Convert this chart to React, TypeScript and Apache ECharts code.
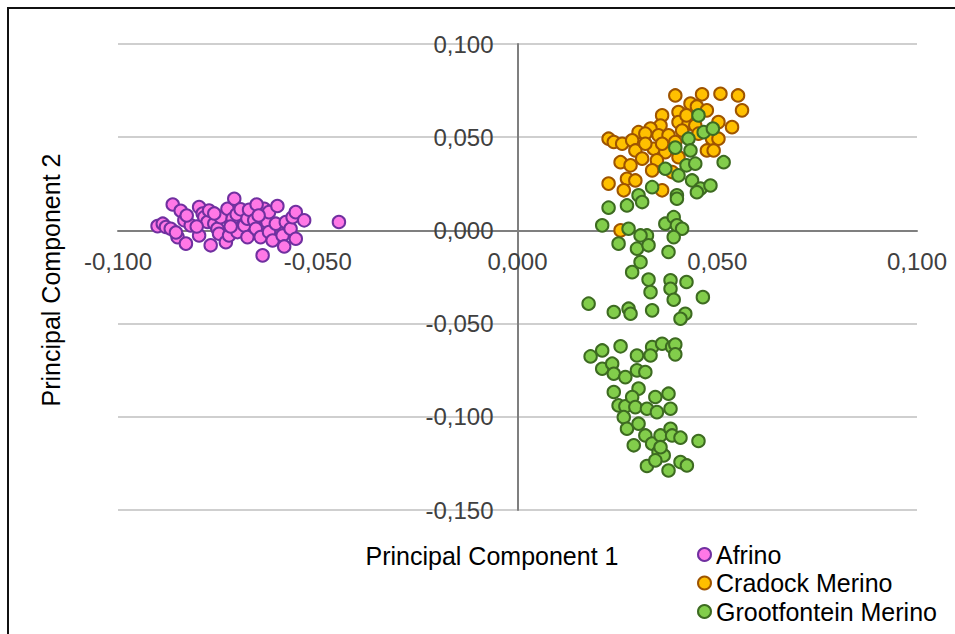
import React, { useEffect, useRef } from "react";
import * as echarts from "echarts";

const seriesNames = ["Afrino", "Cradock Merino", "Grootfontein Merino"];

const afrino: [number, number][] = [
  [-0.0901, 0.0023], [-0.0888, 0.0036], [-0.088, 0.0018], [-0.0863, 0.0139], [-0.0868, 0.0009],
  [-0.0851, -0.0036], [-0.0843, 0.0105], [-0.0834, 0.0054], [-0.083, -0.0071], [-0.0818, 0.0027],
  [-0.0797, 0.0125], [-0.0788, 0.009], [-0.0797, -0.0027], [-0.0784, 0.0071], [-0.0776, 0.0045],
  [-0.0772, 0.0107], [-0.0768, -0.008], [-0.0759, 0.0036], [-0.0751, 0.0009], [-0.0743, 0.0071],
  [-0.0747, -0.0018], [-0.073, -0.0063], [-0.0726, 0.0116], [-0.0722, -0.0027], [-0.0713, 0.0063],
  [-0.0709, 0.017], [-0.0703, 0.0086], [-0.0701, -0.0009], [-0.0693, 0.0113], [-0.0684, 0.0027],
  [-0.0676, 0.0063], [-0.0676, -0.0036], [-0.0672, 0.0111], [-0.0659, 0.0054], [-0.0655, 0.0009],
  [-0.0643, -0.0036], [-0.0638, -0.0134], [-0.0634, 0.0116], [-0.0626, 0.0045], [-0.0622, 0.0098],
  [-0.0622, -0.0009], [-0.0613, -0.0054], [-0.0605, 0.0036], [-0.0601, 0.0131], [-0.0588, -0.0027],
  [-0.0584, -0.0086], [-0.058, 0.0045], [-0.0568, 0.0009], [-0.0563, 0.0071], [-0.0555, 0.0098],
  [-0.0555, -0.0045], [-0.0534, 0.0054], [-0.0447, 0.0045], [-0.0759, 0.0091], [-0.0653, 0.0139],
  [-0.0718, 0.0021], [-0.0828, 0.008], [-0.0855, -0.0011], [-0.0803, 0.0021], [-0.0648, 0.008],
];

const cradock: [number, number][] = [
  [0.0395, 0.0724], [0.0462, 0.073], [0.0508, 0.0733], [0.0552, 0.0724], [0.0562, 0.0644],
  [0.0433, 0.068], [0.0449, 0.0665], [0.0474, 0.0644], [0.0403, 0.0635], [0.0362, 0.0617],
  [0.0403, 0.0581], [0.0428, 0.0572], [0.0445, 0.0563], [0.0503, 0.0581], [0.0537, 0.0554],
  [0.0358, 0.0563], [0.0333, 0.0546], [0.0303, 0.0527], [0.0228, 0.0492], [0.0241, 0.0474],
  [0.0262, 0.0465], [0.0287, 0.0483], [0.032, 0.0519], [0.0353, 0.051], [0.0378, 0.051],
  [0.0412, 0.0536], [0.0453, 0.0519], [0.0487, 0.0492], [0.0503, 0.0492], [0.0295, 0.0429],
  [0.0341, 0.0438], [0.037, 0.042], [0.0474, 0.0429], [0.0491, 0.0429], [0.0258, 0.0366],
  [0.0283, 0.0349], [0.0312, 0.0385], [0.0349, 0.0376], [0.0337, 0.0322], [0.0274, 0.0277],
  [0.0295, 0.0268], [0.0228, 0.0251], [0.0266, 0.0215], [0.0362, 0.0215], [0.0387, 0.0313],
  [0.0403, 0.0393], [0.0362, 0.0465], [0.032, 0.0465], [0.0395, 0.0474], [0.0258, 0.0],
  [0.0423, 0.0617],
];

const grootfontein: [number, number][] = [
  [0.0453, 0.0617], [0.0466, 0.0527], [0.0489, 0.0546], [0.0428, 0.0492], [0.0395, 0.0444],
  [0.0433, 0.0429], [0.0516, 0.0366], [0.037, 0.0331], [0.0403, 0.0295], [0.0423, 0.0349],
  [0.0445, 0.0358], [0.0437, 0.0268], [0.0458, 0.0224], [0.0483, 0.0241], [0.0449, 0.0205],
  [0.0337, 0.0232], [0.0303, 0.0188], [0.0312, 0.0152], [0.0274, 0.0134], [0.0228, 0.0122],
  [0.0399, 0.0188], [0.0399, 0.017], [0.0212, 0.0027], [0.0278, 0.0009], [0.037, 0.0036],
  [0.0391, 0.0071], [0.0399, 0.0027], [0.0412, 0.0009], [0.0324, -0.0027], [0.0308, -0.0027],
  [0.0391, -0.0036], [0.0253, -0.0071], [0.0299, -0.0098], [0.0328, -0.008], [0.0378, -0.0116],
  [0.0308, -0.017], [0.0287, -0.0224], [0.0328, -0.0264], [0.0333, -0.0331], [0.0383, -0.0268],
  [0.0383, -0.0313], [0.0423, -0.0277], [0.0391, -0.0372], [0.0464, -0.0358], [0.0178, -0.0393],
  [0.0241, -0.0438], [0.0278, -0.042], [0.0283, -0.0447], [0.0337, -0.0429], [0.042, -0.0447],
  [0.0408, -0.0474], [0.0183, -0.0676], [0.0212, -0.0644], [0.0258, -0.0622], [0.0212, -0.0742],
  [0.0237, -0.0715], [0.0241, -0.0769], [0.027, -0.0787], [0.0299, -0.0671], [0.0299, -0.0751],
  [0.032, -0.076], [0.0337, -0.0626], [0.0333, -0.0671], [0.0362, -0.0608], [0.0387, -0.0626],
  [0.0395, -0.0612], [0.0395, -0.0665], [0.0241, -0.0867], [0.0253, -0.0939], [0.027, -0.0944],
  [0.0266, -0.1002], [0.0303, -0.0849], [0.0287, -0.0894], [0.0295, -0.0948], [0.0324, -0.0957],
  [0.0345, -0.0894], [0.0349, -0.0975], [0.0378, -0.0876], [0.0383, -0.0957], [0.0274, -0.1064],
  [0.0303, -0.1037], [0.032, -0.11], [0.0291, -0.1153], [0.0337, -0.1144], [0.0358, -0.11],
  [0.0383, -0.1064], [0.0387, -0.11], [0.0408, -0.1112], [0.0453, -0.113], [0.0353, -0.1189],
  [0.0366, -0.1207], [0.0324, -0.1264], [0.0345, -0.1234], [0.0378, -0.1288], [0.0408, -0.1243],
  [0.0424, -0.1261], [0.0358, -0.1163],
];

const xAxisTitle = "Principal Component 1";
const yAxisTitle = "Principal Component 2";

const fillColors = ["#FF78E6", "#FFC000", "#82CD4B"];
const borderColors = ["#7030A0", "#9E5400", "#3D6B21"];

const FONT = "'Liberation Sans', Arial, sans-serif";

const GRID_LEFT = 118;
const GRID_RIGHT = 38;
const GRID_TOP = 44;
const GRID_BOTTOM = 124;
const CHART_W = 955;
const CHART_H = 634;

const fmt = (v: number) => {
  const n = Math.abs(v) < 1e-9 ? 0 : v;
  return n.toFixed(3).replace(".", ",");
};

export default function App() {
  const ref = useRef<HTMLDivElement>(null);
  useEffect(() => {
    if (!ref.current) return;
    const chart = echarts.init(ref.current, undefined, { renderer: "svg" });
    const datasets = [afrino, cradock, grootfontein];
    const xMin = -0.1, xMax = 0.1, yMin = -0.15, yMax = 0.1;
    const plotW = CHART_W - GRID_LEFT - GRID_RIGHT;
    const plotH = CHART_H - GRID_TOP - GRID_BOTTOM;
    // shift axes (line + labels) so they cross at zero, like the reference
    const xAxisOffset = -(plotH * (0 - yMin)) / (yMax - yMin);
    const yAxisOffset = -(plotW * (0 - xMin)) / (xMax - xMin);
    chart.setOption({
      animation: false,
      backgroundColor: "#ffffff",
      grid: { left: GRID_LEFT, right: GRID_RIGHT, top: GRID_TOP, bottom: GRID_BOTTOM },
      xAxis: {
        type: "value",
        min: xMin,
        max: xMax,
        interval: 0.05,
        offset: xAxisOffset,
        axisLine: { show: true, onZero: false, lineStyle: { color: "#7F7F7F", width: 2 } },
        axisTick: { show: false },
        splitLine: { show: false },
        axisLabel: {
          formatter: fmt,
          margin: 19,
          color: "#404040",
          fontSize: 24,
          fontFamily: FONT,
        },
      },
      yAxis: {
        type: "value",
        min: yMin,
        max: yMax,
        interval: 0.05,
        offset: yAxisOffset,
        axisLine: { show: true, onZero: false, lineStyle: { color: "#7F7F7F", width: 2 } },
        axisTick: { show: false },
        splitLine: { show: true, lineStyle: { color: "#BFBFBF", width: 1.5 } },
        axisLabel: {
          formatter: fmt,
          margin: 24,
          color: "#404040",
          fontSize: 24,
          fontFamily: FONT,
        },
      },
      legend: {
        orient: "vertical",
        left: 697,
        top: 542,
        padding: 0,
        itemWidth: 13,
        itemHeight: 13,
        itemGap: 3.5,
        icon: "circle",
        textStyle: { fontSize: 25, lineHeight: 25, color: "#000000", fontFamily: FONT },
        data: seriesNames,
      },
      series: seriesNames.map((name, i) => ({
        name,
        type: "scatter",
        data: datasets[i],
        symbol: "circle",
        symbolSize: 12.5,
        itemStyle: { color: fillColors[i], borderColor: borderColors[i], borderWidth: 2, opacity: 1 },
        emphasis: { disabled: true },
      })),
      graphic: [
        {
          type: "rect",
          shape: { x: 8, y: 8, width: 980, height: 660 },
          style: { fill: "none", stroke: "#111111", lineWidth: 2 },
          silent: true,
        },
        {
          type: "text",
          x: 492,
          y: 556,
          style: {
            text: xAxisTitle,
            font: `25px ${FONT}`,
            fill: "#000000",
            textAlign: "center",
            textVerticalAlign: "middle",
          },
        },
        {
          type: "text",
          x: 51,
          y: 280,
          rotation: Math.PI / 2,
          style: {
            text: yAxisTitle,
            font: `25px ${FONT}`,
            fill: "#000000",
            textAlign: "center",
            textVerticalAlign: "middle",
          },
        },
      ],
    });
    return () => chart.dispose();
  }, []);
  return (
    <div
      ref={ref}
      style={{ position: "absolute", left: 0, top: 0, width: CHART_W, height: CHART_H }}
    />
  );
}
